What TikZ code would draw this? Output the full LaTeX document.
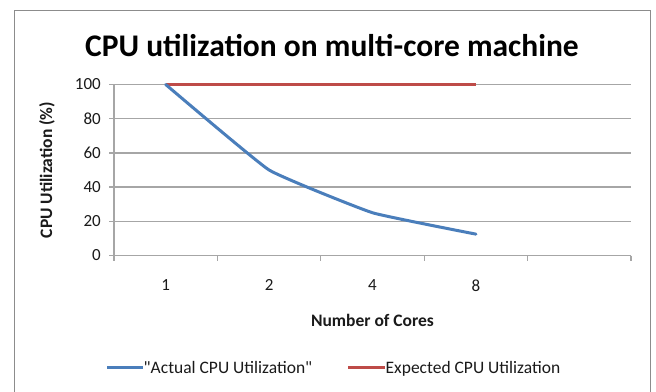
\documentclass[tikz,border=0pt]{standalone}
\usepackage{fontspec}
\setmainfont{Carlito}[Ligatures=TeXOff]
\definecolor{seriesblue}{HTML}{4A7EBB}
\definecolor{seriesred}{HTML}{BE4B48}
\definecolor{gridgray}{HTML}{A6A6A6}
\definecolor{framegray}{HTML}{8C8C8C}
\definecolor{textdark}{HTML}{1A1A1A}
\begin{document}
\begin{tikzpicture}[x=1pt,y=-1pt,
  gridline/.style={gridgray, line width=1.3pt},
  ticklabel/.style={inner sep=0pt, text=textdark, font=\fontsize{17}{20}\selectfont},
  axistitle/.style={inner sep=0pt, text=textdark, font=\bfseries\fontsize{17.5}{20}\selectfont},
  legendtext/.style={inner sep=0pt, anchor=base west, text=textdark, font=\fontsize{17.5}{20}\selectfont},
  actualline/.style={seriesblue, line width=3pt, line cap=round, line join=round},
  expectedline/.style={seriesred, line width=2.2pt},
]
\useasboundingbox (0,0) rectangle (656,391);
\fill[white] (0,0) rectangle (656,391);

% chart frame (runs off the lower edge)
\begin{scope}
  \clip (0,0) rectangle (656,391);
  \draw[framegray, line width=1.2pt] (14.5,10.5) rectangle (650.5,420);
\end{scope}

% title
\node[inner sep=0pt, anchor=base, text=black, font=\bfseries\fontsize{31.5}{36}\selectfont]
  (title) at (332,56) {CPU utilization on multi-core machine};

% plot area: x in pixels, y in percent
\begin{scope}[shift={(0,255.5)}, y=1.71pt]
  % horizontal grid lines and y ticks
  \foreach \v in {20,40,60,80,100} {
    \draw[gridline] (109,\v) -- (631,\v);
  }
  \foreach \v in {0,20,40,60,80,100} {
    \node[ticklabel, anchor=east] (ylab\v) at (101,\v) {\v};
  }
  % axes
  \draw[gridline] (109,0) -- (631,0);
  \draw[gridline] (114,-3.2) -- (114,100);
  % category boundary ticks
  \foreach \xb in {114,217.4,320.8,424.2,527.6,631} {
    \draw[gridline] (\xb,0) -- (\xb,-3.2);
  }
  % category labels
  \foreach \xc/\lab in {165.7/1,269.1/2,372.5/4,475.9/8} {
    \node[ticklabel] (xlab\lab) at (\xc,-17.5) {\lab};
  }
  % data points
  \coordinate (a1) at (165.7,100);
  \coordinate (a2) at (269.1,50);
  \coordinate (a4) at (372.5,25);
  \coordinate (a8) at (475.9,12.5);
  \coordinate (e1) at (165.7,100);
  \coordinate (e8) at (475.9,100);
  % series
  \draw[expectedline] (e1) -- (e8);
  \draw[actualline] plot[smooth, tension=0.2] coordinates {(a1) (a2) (a4) (a8)};
\end{scope}

% axis titles
\node[axistitle] (xtitle) at (372.5,320) {Number of Cores};
\node[axistitle, rotate=90] (ytitle) at (47,170) {CPU Utilization (\%)};

% legend
\coordinate (lb1) at (107,367);
\coordinate (lb2) at (143,367);
\coordinate (lr1) at (348,367);
\coordinate (lr2) at (385,367);
\draw[seriesblue, line width=3pt] (lb1) -- (lb2);
\node[legendtext] (legactual) at (143.5,373) {"Actual CPU Utilization"};
\draw[seriesred, line width=3pt] (lr1) -- (lr2);
\node[legendtext] (legexpected) at (385.5,373) {Expected CPU Utilization};
\end{tikzpicture}
\end{document}
